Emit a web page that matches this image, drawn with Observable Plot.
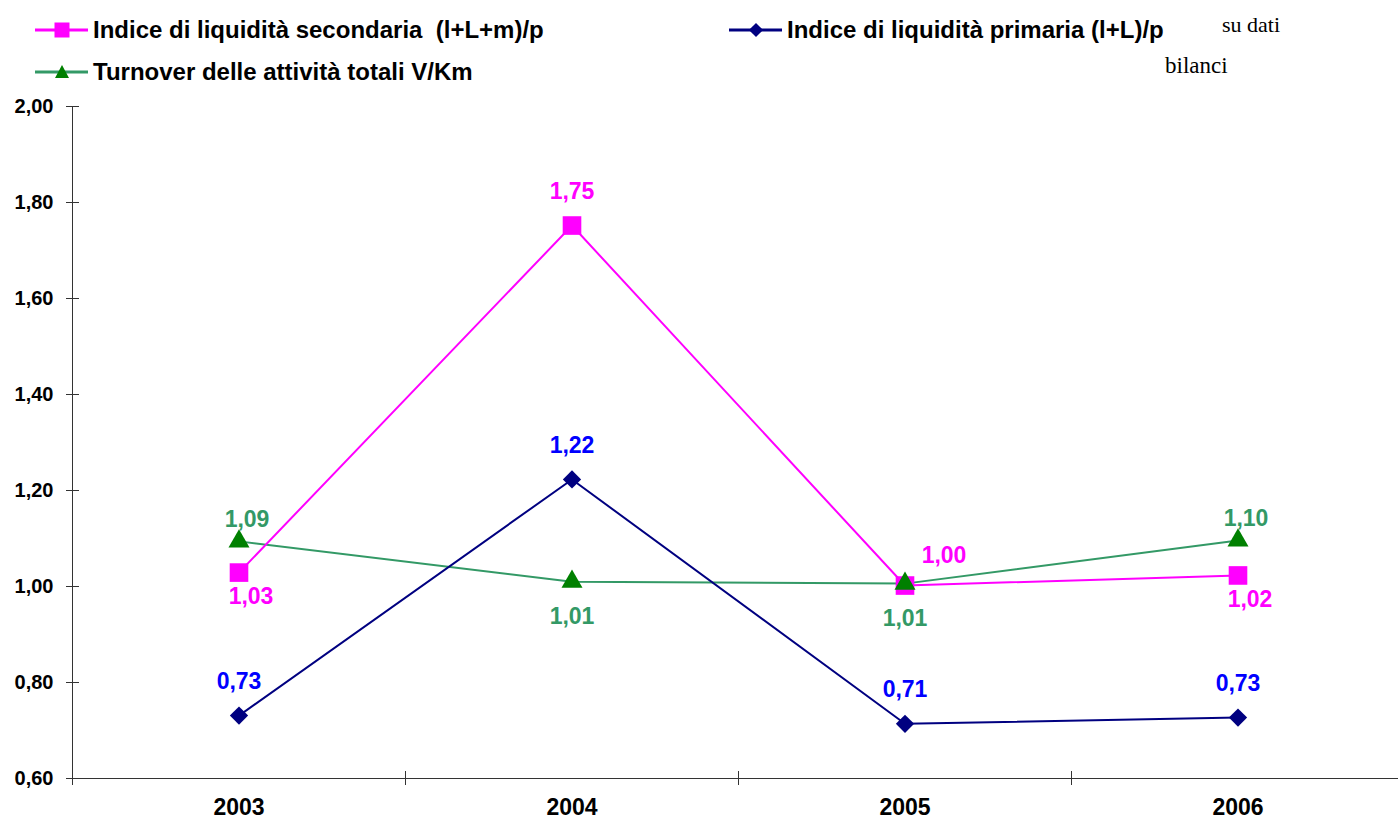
<!DOCTYPE html>
<html>
<head>
<meta charset="utf-8">
<script src="https://cdn.jsdelivr.net/npm/d3@7"></script>
<script src="https://cdn.jsdelivr.net/npm/@observablehq/plot@0.6"></script>
<style>
  html, body { margin: 0; padding: 0; background: #fff; }
  #page { position: relative; width: 1398px; height: 819px; overflow: hidden; }
  #legend { position: relative; height: 90px; font-family: "Liberation Sans", Arial, sans-serif; font-weight: bold; font-size: 24px; color: #000; }
  .item { position: absolute; display: flex; align-items: center; white-space: pre; line-height: 28px; }
  .item svg { margin-right: 5px; }
  .note { position: absolute; font-family: "Liberation Serif", "Times New Roman", serif; font-size: 22px; font-weight: normal; line-height: 1; }
  #chart svg { display: block; }
</style>
</head>
<body>
<div id="page">
  <div id="legend"></div>
  <div id="chart"></div>
</div>
<script>
// Anni di bilancio
const years = ["2003", "2004", "2005", "2006"];

// Serie degli indici
const secondaria = [1.029, 1.752, 1.002, 1.023]; // (l+L+m)/p
const primaria = [0.731, 1.223, 0.714, 0.727];   // (l+L)/p
const turnover = [1.094, 1.010, 1.006, 1.096];   // V/Km

// Posizione delle etichette di valore rispetto al punto
const secondariaLabel = ["belowNear", "above", "right", "belowNear"];
const primariaLabel = ["above", "above", "above", "above"];
const turnoverLabel = ["aboveNear", "below", "below", "aboveNear"];

// Tick dell'asse verticale
const yTicks = [0.6, 0.8, 1.0, 1.2, 1.4, 1.6, 1.8, 2.0];

const seriesNames = {
  secondaria: "Indice di liquidità secondaria  (l+L+m)/p",
  primaria: "Indice di liquidità primaria (l+L)/p",
  turnover: "Turnover delle attività totali V/Km"
};

const placements = {
  above: [0, -34],
  below: [0, 35],
  aboveNear: [8, -22],
  belowNear: [12, 24],
  right: [39, -30]
};

const fmt = v => v.toFixed(2).replace(".", ",");

function rows(values, labels) {
  return values.map((v, i) => ({
    x: i + 0.5, year: years[i], value: v,
    dx: placements[labels[i]][0], dy: placements[labels[i]][1]
  }));
}

const dSec = rows(secondaria, secondariaLabel);
const dPri = rows(primaria, primariaLabel);
const dTur = rows(turnover, turnoverLabel);

const styles = {
  secondaria: {line: "#FF00FF", fill: "#FF00FF", label: "#FF00FF"},
  primaria: {line: "#000080", fill: "#000080", label: "#0000FF"},
  turnover: {line: "#339966", fill: "#008000", label: "#339966"}
};

function labels(data, color) {
  return data.map(d => Plot.text([d], {
    x: "x", y: "value", text: r => fmt(r.value),
    dx: d.dx, dy: d.dy, fill: color,
    fontSize: 23, fontWeight: "bold"
  }));
}

const chart = Plot.plot({
  width: 1398,
  height: 729,
  marginTop: 16,
  marginBottom: 41,
  marginLeft: 72,
  marginRight: 0,
  style: {fontFamily: "'Liberation Sans', Arial, sans-serif", background: "#fff"},
  x: {domain: [0, 4], range: [72, 1404], axis: null},
  y: {domain: [0.6, 2.0], axis: null},
  marks: [
    // assi
    Plot.axisY(yTicks, {
      label: null, tickSize: 0, tickPadding: 19,
      tickFormat: fmt, fontSize: 20, fontWeight: "bold", fill: "#000"
    }),
    Plot.ruleY(yTicks, {x1: 0, x2: 0, insetLeft: -6, insetRight: -7, stroke: "#333"}),
    Plot.ruleX([0], {y1: 2.0, y2: 0.6, insetBottom: -7, stroke: "#333"}),
    Plot.ruleY([0.6], {stroke: "#333"}),
    Plot.ruleX([1, 2, 3], {y1: 0.6, y2: 0.6, insetTop: -7, insetBottom: -7, stroke: "#333"}),
    Plot.text(years, {
      x: (d, i) => i + 0.5, y: () => 0.6, text: d => d, dy: 29,
      fontSize: 23, fontWeight: "bold", fill: "#000"
    }),
    // serie
    Plot.line(dTur, {x: "x", y: "value", stroke: styles.turnover.line, strokeWidth: 2}),
    Plot.line(dPri, {x: "x", y: "value", stroke: styles.primaria.line, strokeWidth: 2}),
    Plot.line(dSec, {x: "x", y: "value", stroke: styles.secondaria.line, strokeWidth: 2}),
    Plot.dot(dPri, {x: "x", y: "value", symbol: "square", r: 7.3, rotate: 45, fill: styles.primaria.fill}),
    Plot.dot(dSec, {x: "x", y: "value", symbol: "square", r: 10.5, fill: styles.secondaria.fill}),
    Plot.dot(dTur, {x: "x", y: "value", symbol: "triangle", r: 7.8, fill: styles.turnover.fill}),
    ...labels(dSec, styles.secondaria.label),
    ...labels(dPri, styles.primaria.label),
    ...labels(dTur, styles.turnover.label)
  ]
});
document.getElementById("chart").append(chart);

// legenda
function swatch(kind, s) {
  const w = 53, h = 18, c = h / 2, m = 27;
  let marker = "";
  if (kind === "square") marker = `<rect x="${m - 7.5}" y="${c - 7.5}" width="15" height="15" fill="${s.fill}"/>`;
  if (kind === "diamond") marker = `<rect x="${m - 5}" y="${c - 5}" width="10" height="10" fill="${s.fill}" transform="rotate(45 ${m} ${c})"/>`;
  if (kind === "triangle") marker = `<path d="M${m},${c - 7} L${m + 7},${c + 6} L${m - 7},${c + 6} Z" fill="${s.fill}"/>`;
  return `<svg width="${w}" height="${h}"><line x1="0" x2="${w}" y1="${c}" y2="${c}" stroke="${s.line}" stroke-width="3"/>${marker}</svg>`;
}
const legend = document.getElementById("legend");
const items = [
  {key: "secondaria", kind: "square", left: 35, top: 16},
  {key: "primaria", kind: "diamond", left: 729, top: 16},
  {key: "turnover", kind: "triangle", left: 35, top: 58}
];
for (const it of items) {
  const div = document.createElement("div");
  div.className = "item";
  div.style.left = it.left + "px";
  div.style.top = it.top + "px";
  div.innerHTML = swatch(it.kind, styles[it.key]) + `<span>${seriesNames[it.key]}</span>`;
  legend.append(div);
}
const n1 = document.createElement("div");
n1.className = "note"; n1.style.left = "1222px"; n1.style.top = "14px"; n1.textContent = "su dati";
const n2 = document.createElement("div");
n2.className = "note"; n2.style.left = "1165px"; n2.style.top = "54px"; n2.style.fontSize = "23px"; n2.textContent = "bilanci";
legend.append(n1, n2);
</script>
</body>
</html>
